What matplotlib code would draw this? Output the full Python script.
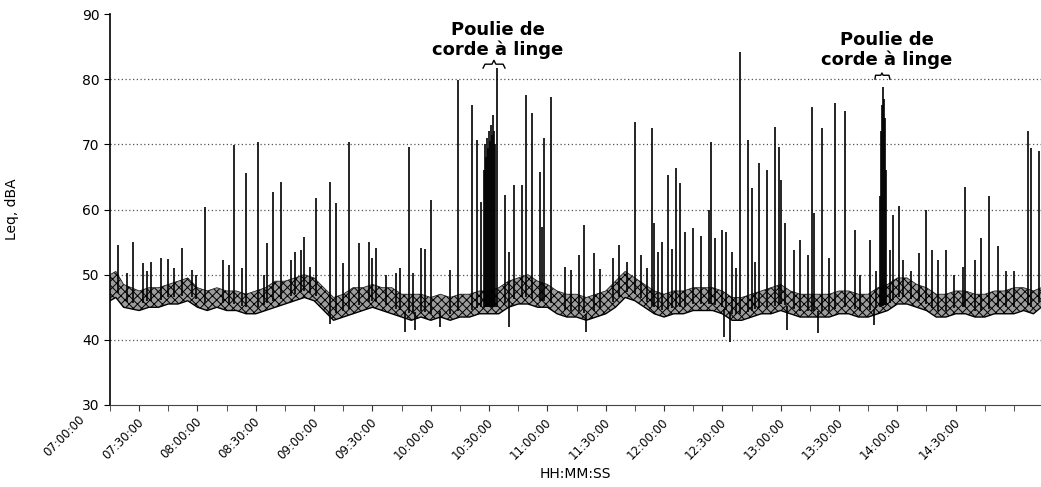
import numpy as np
import matplotlib
matplotlib.use("Agg")
import matplotlib.pyplot as plt
from matplotlib.transforms import ScaledTranslation

plt.rcParams["font.family"] = ["DejaVu Sans"]
plt.rcParams["hatch.linewidth"] = 0.7


def mins(hms):
    # minutes after 07:00:00
    parts = [int(p) for p in hms.split(":")]
    while len(parts) < 3:
        parts.append(0)
    h, m, s = parts
    return (h - 7) * 60 + m + s / 60.0


# background level: lower / upper envelope of the Leq trace
band_times = ["07:15", "07:18", "07:22", "07:30", "07:35", "07:40", "07:45", "07:50", "07:55",
              "08:00", "08:05", "08:10", "08:15", "08:20", "08:25", "08:30", "08:35", "08:40",
              "08:45", "08:50", "08:55", "09:00", "09:05", "09:10", "09:15", "09:20", "09:25",
              "09:30", "09:35", "09:40", "09:45", "09:50", "09:55", "10:00", "10:05", "10:10",
              "10:15", "10:20", "10:25", "10:30", "10:35", "10:40", "10:45", "10:50", "10:55",
              "11:00", "11:05", "11:10", "11:15", "11:20", "11:25", "11:30", "11:35", "11:40",
              "11:45", "11:50", "11:55", "12:00", "12:05", "12:10", "12:15", "12:20", "12:25",
              "12:30", "12:35", "12:40", "12:45", "12:50", "12:55", "13:00", "13:05", "13:10",
              "13:15", "13:20", "13:25", "13:30", "13:35", "13:40", "13:45", "13:50", "13:55",
              "14:00", "14:05", "14:10", "14:15", "14:20", "14:25", "14:30", "14:35", "14:40",
              "14:45", "14:50", "14:55", "15:00", "15:05", "15:10", "15:14"]
band_lo = [46.0, 46.5, 45.0, 44.5, 45.0, 45.0, 45.5, 45.5, 46.0,
           45.0, 44.5, 45.0, 44.5, 44.5, 44.0, 44.0, 44.5, 45.0,
           45.5, 46.0, 46.5, 46.0, 44.5, 43.0, 43.5, 44.0, 44.5,
           45.0, 44.5, 44.0, 43.5, 43.0, 43.5, 43.0, 43.5, 43.0,
           43.5, 43.5, 44.0, 44.0, 44.0, 45.0, 45.5, 45.5, 45.0,
           45.0, 44.0, 43.5, 43.5, 43.0, 43.5, 44.0, 45.0, 46.5,
           46.0, 45.0, 44.0, 43.5, 44.0, 44.0, 44.5, 44.5, 44.5,
           44.0, 43.0, 43.0, 43.5, 44.0, 44.0, 44.5, 44.0, 43.5,
           43.5, 43.5, 43.5, 44.0, 44.0, 43.5, 43.5, 44.0, 44.5,
           45.5, 45.5, 45.0, 44.5, 43.5, 43.5, 44.0, 44.0, 43.5,
           43.5, 44.0, 44.0, 44.0, 44.5, 44.0, 45.0]
band_hi = [50.0, 50.5, 48.5, 47.5, 48.0, 48.0, 48.5, 49.0, 49.5,
           48.0, 47.5, 48.0, 47.5, 47.5, 47.0, 47.5, 48.0, 49.0,
           49.0, 49.5, 50.0, 49.5, 48.0, 46.5, 47.0, 48.0, 48.0,
           48.5, 48.0, 48.0, 47.0, 47.0, 47.0, 46.5, 47.0, 46.5,
           47.0, 47.0, 47.5, 47.5, 48.0, 49.0, 49.5, 50.0, 49.0,
           48.5, 47.5, 47.0, 47.0, 46.5, 47.0, 47.5, 49.0, 50.5,
           49.5, 48.5, 47.5, 47.0, 47.5, 47.5, 48.0, 48.0, 48.0,
           47.5, 46.5, 46.5, 47.0, 47.5, 48.0, 48.5, 47.5, 47.0,
           47.0, 47.0, 47.0, 47.5, 47.5, 47.0, 47.0, 48.0, 48.5,
           49.5, 49.5, 48.5, 48.0, 47.0, 47.0, 47.5, 47.5, 47.0,
           47.0, 47.5, 47.5, 48.0, 48.0, 47.5, 48.0]

# short events above the background
spike_times = ["07:19", "07:27", "07:32", "07:36", "07:41", "07:45", "07:52", "07:59",
               "08:04", "08:13", "08:16", "08:19", "08:23", "08:25", "08:31", "08:36", "08:39",
               "08:43", "08:48", "08:50", "08:53", "08:55",
               "09:01", "09:08", "09:11", "09:15", "09:18", "09:23", "09:28", "09:32", "09:37",
               "09:44", "09:49", "09:51", "09:55", "09:57",
               "10:00", "10:10", "10:14", "10:21", "10:24", "10:26",
               "10:27:24", "10:27:54", "10:28:24", "10:28:54", "10:29:24", "10:29:54", "10:30:30",
               "10:31:00", "10:31:30", "10:32:00", "10:32:30", "10:33:00", "10:34:00",
               "10:38", "10:40", "10:43", "10:47", "10:49", "10:52", "10:56", "10:57", "10:58",
               "11:02", "11:09", "11:16", "11:19", "11:24", "11:34", "11:37", "11:41", "11:45",
               "11:48", "11:54", "11:55", "11:59",
               "12:02", "12:04", "12:06", "12:08", "12:11", "12:15", "12:19", "12:23", "12:24",
               "12:26", "12:30", "12:32", "12:35", "12:39", "12:43", "12:45", "12:47", "12:49",
               "12:53", "12:57", "12:59",
               "13:00", "13:02", "13:07", "13:10", "13:16", "13:17", "13:21", "13:28", "13:33",
               "13:38", "13:46",
               "13:51:06", "13:51:36", "13:52:06", "13:52:36", "13:53:06", "13:53:36", "13:54:06",
               "13:56", "13:58", "14:01", "14:03", "14:11", "14:15", "14:18", "14:21", "14:25",
               "14:35", "14:40", "14:43", "14:47", "14:52",
               "15:07", "15:09", "15:13"]
spike_leq = [54.5, 55.0, 51.8, 52.0, 52.6, 52.4, 54.1, 50.0,
             60.4, 52.3, 51.5, 69.9, 51.0, 65.6, 70.4, 54.8, 62.7,
             64.2, 52.3, 53.5, 53.8, 55.8,
             61.8, 64.2, 61.0, 51.8, 70.4, 54.8, 55.0, 54.1, 50.0,
             51.0, 69.6, 50.3, 54.1, 54.0,
             61.4, 50.7, 79.9, 76.0, 70.7, 61.2,
             66.0, 70.0, 68.0, 71.0, 69.5, 72.0, 70.5,
             73.0, 71.5, 74.5, 72.0, 70.0, 81.7,
             62.2, 53.5, 63.7, 63.7, 77.6, 74.8, 65.8, 57.3, 71.0,
             77.3, 51.2, 53.0, 57.6, 53.3, 52.6, 54.6, 52.0, 73.4,
             53.0, 72.5, 58.0, 55.0,
             65.3, 54.0, 66.4, 64.0, 56.5, 57.1, 56.0, 59.9, 70.4,
             55.6, 56.8, 56.6, 53.5, 84.2, 70.7, 63.3, 52.0, 67.1,
             66.0, 72.7, 69.6,
             64.5, 58.0, 53.8, 55.3, 75.7, 59.5, 72.5, 76.3, 75.1,
             56.8, 55.3,
             62.0, 72.0, 76.0, 78.8, 77.0, 74.0, 66.0,
             53.8, 59.2, 60.5, 52.3, 53.3, 60.0, 53.8, 52.3, 53.8,
             63.5, 52.3, 55.6, 62.0, 54.4,
             72.0, 69.5, 69.0]

# smaller bumps just above the background
small_times = ["07:24", "07:34", "07:48", "07:57", "08:34", "08:58", "09:30", "09:42",
               "11:12", "11:27", "11:51", "11:57", "12:37", "13:14", "13:25", "13:41",
               "13:49", "14:07", "14:29", "14:34", "14:56", "15:00"]
small_leq = [50.2, 50.5, 51.0, 50.7, 50.0, 51.2, 52.5, 50.3,
             50.7, 50.8, 51.0, 53.5, 51.0, 53.0, 52.5, 50.0,
             50.5, 50.5, 50.0, 51.2, 50.5, 50.5]

# quiet moments below the background
dip_times = ["09:08", "09:47", "09:52", "10:05", "10:40", "11:20", "12:31", "12:34",
             "13:03", "13:19", "13:48"]
dip_leq = [42.5, 41.2, 41.5, 42.0, 42.0, 41.2, 40.4, 39.7, 41.5, 41.0, 42.3]

tick_labels = ["07:30:00", "08:00:00", "08:30:00", "09:00:00", "09:30:00", "10:00:00",
               "10:30:00", "11:00:00", "11:30:00", "12:00:00", "12:30:00", "13:00:00",
               "13:30:00", "14:00:00", "14:30:00"]

bt = np.array([mins(t) for t in band_times])
st = np.array([mins(t) for t in spike_times + small_times])
sv = spike_leq + small_leq
dt = np.array([mins(t) for t in dip_times])

fig = plt.figure(figsize=(10.41, 4.87), dpi=100)
ax = fig.add_axes([110 / 1041, 82 / 487, 931 / 1041, 391 / 487])

ax.fill_between(bt, band_lo, band_hi, facecolor="#9c9c9c", edgecolor="black",
                hatch="xxxx", linewidth=0, zorder=2)
ax.plot(bt, band_lo, color="black", lw=1.0, zorder=3)
ax.plot(bt, band_hi, color="#222222", lw=0.6, zorder=3)

base = np.interp(st, bt, band_lo) + 1.0
ax.vlines(st, base, sv, color="black", lw=1.2, zorder=4)
dtop = np.interp(dt, bt, band_lo) + 1.0
ax.vlines(dt, dip_leq, dtop, color="black", lw=1.2, zorder=4)

ax.set_xlim(mins("07:15"), mins("07:15") + 931 / 1.944)
ax.set_ylim(30, 90)
ax.set_yticks(range(30, 91, 10))
ax.set_xticks([mins(t) for t in tick_labels])
ax.set_xticklabels(tick_labels, rotation=45, ha="right", fontsize=8.5)
ax.set_xticks(np.arange(mins("07:15"), mins("15:01"), 15), minor=True)
ax.tick_params(axis="x", which="both", length=4, color="#333333")
ax.tick_params(axis="y", length=4, labelsize=10)

# nudge the rotated labels so their ends sit on the ticks
shift = ScaledTranslation(5 / 72, 0, fig.dpi_scale_trans)
for lbl in ax.get_xticklabels():
    lbl.set_transform(lbl.get_transform() + shift)

# first label sits left of the plotted range
ax.annotate("07:00:00", xy=(0, 30), xytext=(5, -6), textcoords="offset points",
            rotation=45, ha="right", va="top", fontsize=8.5, annotation_clip=False)

for v in range(40, 90, 10):
    ax.axhline(v, color="#555555", ls=(0, (1, 2)), lw=0.9, zorder=1)

ax.spines["top"].set_visible(False)
ax.spines["right"].set_visible(False)
ax.spines["left"].set_linewidth(1.2)
ax.spines["bottom"].set_color("#444444")

ax.set_xlabel("HH:MM:SS", fontsize=10, labelpad=4)
ax.set_ylabel("Leq, dBA", fontsize=10)
ax.yaxis.set_label_coords(-91 / 931, 0.5)

# clothesline pulley events
ax.text(mins("10:34:36"), 86.0, "Poulie de\ncorde à linge", ha="center", va="center",
        fontsize=13, fontweight="bold", linespacing=1.15)
bx = [mins(t) for t in ["10:26:54", "10:27:54", "10:31:30", "10:32:30", "10:33:30",
                         "10:37:12", "10:38:12"]]
ax.plot(bx, [81.7, 82.3, 82.3, 82.9, 82.3, 82.3, 81.7], color="black", lw=1.0,
        clip_on=False, zorder=5)

ax.text(mins("13:54:42"), 84.5, "Poulie de\ncorde à linge", ha="center", va="center",
        fontsize=13, fontweight="bold", linespacing=1.15)
bx2 = [mins(t) for t in ["13:48:30", "13:48:48", "13:51:30", "13:52:06", "13:52:42",
                          "13:55:42", "13:56:12"]]
ax.plot(bx2, [80.0, 80.6, 80.6, 80.95, 80.6, 80.6, 80.0], color="black", lw=1.0,
        clip_on=False, zorder=5)

fig.savefig("out.png", dpi=100)
